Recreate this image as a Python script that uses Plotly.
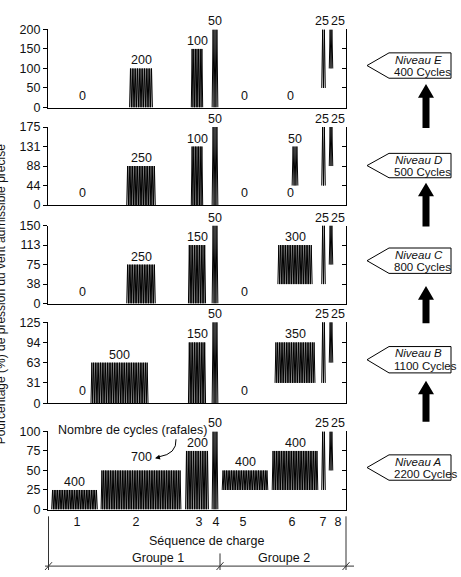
import numpy as np
import plotly.graph_objects as go

W, H = 461, 577
FONT = "Liberation Sans, Arial, sans-serif"

# ---------------- data ----------------
levels = ["A", "B", "C", "D", "E"]              # bottom -> top
level_cycles = [2200, 1100, 800, 500, 400]
level_max = [100, 125, 150, 175, 200]          # % of specified wind pressure
tick_text = [
    ["0", "25", "50", "75", "100"],
    ["0", "31", "63", "94", "125"],
    ["0", "38", "75", "113", "150"],
    ["0", "44", "88", "131", "175"],
    ["0", "50", "100", "150", "200"],
]
sequences = [1, 2, 3, 4, 5, 6, 7, 8]
seq_lo_frac = [0, 0, 0, 0, 0.25, 0.25, 0.25, 0.5]
seq_hi_frac = [0.25, 0.5, 0.75, 1, 0.5, 0.75, 1, 1]
cycles = {
    "A": [400, 700, 200, 50, 400, 400, 25, 25],
    "B": [0, 500, 150, 50, 0, 350, 25, 25],
    "C": [0, 250, 150, 50, 0, 300, 25, 25],
    "D": [0, 250, 100, 50, 0, 50, 25, 25],
    "E": [0, 200, 100, 50, 0, 0, 25, 25],
}
stray_zero = {"D": [6]}
# timeline positions (x axis units)
seq_center = [26.5, 93, 149, 167, 197, 247, 275.5, 283]
center_override = {"B": {2: 71.5}}
seq_tick_pos = [29, 88, 151, 168, 195, 244, 275, 290]
x_range = [0, 298]
width_per_cycle = 0.114

# ---------------- styles ----------------
label_xshift = {7: -2, 8: 7}          # px
label_yshift = {2: 5}                 # px
zero_xshift = {1: 7.5, 5: -1, 6: -5}  # px
panel_px = [(435, 515), (323, 406), (224, 304), (123, 203), (23, 103)]  # top,bottom px
x_dom = [48 / W, 346 / W]


def px(x, y):
    return x / W, 1 - y / H


fig = go.Figure()
annotations = []
shapes = []

for i, lev in enumerate(levels):
    M = level_max[i]
    xa = "x" if i == 0 else f"x{i+1}"
    ya = "y" if i == 0 else f"y{i+1}"
    xs_all, ys_all = [], []
    for j, s in enumerate(sequences):
        c = cycles[lev][j]
        xc = center_override.get(lev, {}).get(s, seq_center[j])
        lo = seq_lo_frac[j] * M
        hi = seq_hi_frac[j] * M
        if c > 0:
            w = max(c * width_per_cycle, 3.5)
            n = max(2, int(round(c / 15)))
            xs = np.linspace(xc - w / 2, xc + w / 2, 2 * n + 1)
            ys = [lo if k % 2 == 0 else hi for k in range(2 * n + 1)]
            xs_all += list(xs) + [None]
            ys_all += ys + [None]
            annotations.append(dict(
                x=xc, y=hi, xref=xa, yref=ya, text=str(c), showarrow=False,
                yanchor="bottom", xshift=label_xshift.get(s, 0),
                yshift=-1 + (label_yshift.get(s, 0) if lev == "A" else 0),
                font=dict(size=12.5, family=FONT, color="#111")))
        if c == 0 or s in stray_zero.get(lev, []):
            annotations.append(dict(
                x=xc, y=0, xref=xa, yref=ya, text="0", showarrow=False,
                yanchor="middle", xshift=zero_xshift.get(s, 0), yshift=12,
                font=dict(size=12.5, family=FONT, color="#111")))
    fig.add_trace(go.Scatter(
        x=xs_all, y=ys_all, mode="lines", xaxis=xa, yaxis=ya,
        line=dict(color="black", width=1), showlegend=False, hoverinfo="skip"))
    # invisible trace for the right-hand axis
    fig.add_trace(go.Scatter(x=[None], y=[None], xaxis=xa, yaxis=f"y{i+6}",
                             showlegend=False))

    top, bot = panel_px[i]
    dom = [1 - bot / H, 1 - top / H]
    tickvals = [0, M / 4, M / 2, 3 * M / 4, M]
    xkey = "xaxis" if i == 0 else f"xaxis{i+1}"
    ykey = "yaxis" if i == 0 else f"yaxis{i+1}"
    xprops = dict(domain=x_dom, range=x_range, anchor=ya, showgrid=False,
                  zeroline=False, showline=True, linecolor="black", linewidth=1.3,
                  ticks="", fixedrange=True)
    if i == 0:
        xprops.update(tickvals=seq_tick_pos, ticktext=[str(s) for s in sequences],
                      tickfont=dict(size=12.5, family=FONT, color="#111"))
    else:
        xprops.update(showticklabels=False)
    fig.layout[xkey] = xprops
    fig.layout[ykey] = dict(
        domain=dom, range=[0, M], anchor=xa, showgrid=False, zeroline=False,
        showline=True, linecolor="black", linewidth=1.3, ticks="outside",
        ticklen=4, tickcolor="black", tickvals=tickvals, ticktext=tick_text[i],
        tickfont=dict(size=12.5, family=FONT, color="#111"), fixedrange=True)
    fig.layout[f"yaxis{i+6}"] = dict(
        domain=dom, range=[0, M], anchor=xa, overlaying=ya, side="right",
        showgrid=False, zeroline=False, showline=True, linecolor="black",
        linewidth=1.3, ticks="inside", ticklen=4, tickcolor="black",
        tickvals=tickvals, showticklabels=False, fixedrange=True)

# ---------------- level tags on the right ----------------
tag_px = [(459, 485), (348, 375), (247, 273), (150, 175), (47, 73)]
for i, lev in enumerate(levels):
    t, b = tag_px[i]
    m = (t + b) / 2
    pts = [(367, m), (389, t), (451, t), (451, b), (389, b)]
    path = "M " + " L ".join(f"{px(x, y)[0]:.5f},{px(x, y)[1]:.5f}" for x, y in pts) + " Z"
    shapes.append(dict(type="path", path=path, xref="paper", yref="paper",
                       line=dict(color="black", width=1), fillcolor="white"))
    annotations.append(dict(x=px(393, 0)[0], y=px(0, t + 7)[1], xref="paper", yref="paper",
                            text=f"<i>Niveau {lev}</i>", showarrow=False, xanchor="left",
                            yanchor="middle", font=dict(size=11.5, family=FONT, color="#111")))
    annotations.append(dict(x=px(392, 0)[0], y=px(0, t + 19.5)[1], xref="paper", yref="paper",
                            text=f"{level_cycles[i]} Cycles", showarrow=False, xanchor="left",
                            yanchor="middle", font=dict(size=11.5, family=FONT, color="#111")))

# up arrows between tags
for tip, bottom in [(79, 124), (180, 225), (286, 324), (383, 425)]:
    cx = 426
    pts = [(cx, tip), (cx + 8, tip + 14), (cx + 3.5, tip + 14), (cx + 3.5, bottom),
           (cx - 3.5, bottom), (cx - 3.5, tip + 14), (cx - 8, tip + 14)]
    path = "M " + " L ".join(f"{px(x, y)[0]:.5f},{px(x, y)[1]:.5f}" for x, y in pts) + " Z"
    shapes.append(dict(type="path", path=path, xref="paper", yref="paper",
                       line=dict(color="black", width=0), fillcolor="black"))

# ---------------- note with curved arrow ----------------
annotations.append(dict(x=px(56, 0)[0], y=px(0, 434)[1], xref="paper", yref="paper",
                        text="Nombre de cycles (rafales)", showarrow=False, xanchor="left",
                        yanchor="middle", font=dict(size=12.5, family=FONT, color="#111")))
p0, p1, p2 = px(176, 443), px(177, 458), px(159, 461)
shapes.append(dict(type="path", xref="paper", yref="paper",
                   path=f"M {p0[0]:.5f},{p0[1]:.5f} Q {p1[0]:.5f},{p1[1]:.5f} {p2[0]:.5f},{p2[1]:.5f}",
                   line=dict(color="black", width=1)))
annotations.append(dict(x=px(155, 0)[0], y=px(0, 462.5)[1], xref="paper", yref="paper",
                        ax=6, ay=-1.5, text="", showarrow=True, arrowhead=2, arrowsize=1,
                        arrowwidth=1, arrowcolor="black"))

# ---------------- bottom: sequence title & groups ----------------
annotations.append(dict(x=px(206, 0)[0], y=px(0, 547)[1], xref="paper", yref="paper",
                        text="Séquence de charge", showarrow=False, yanchor="middle",
                        font=dict(size=12.5, family=FONT, color="#111")))
annotations.append(dict(x=px(130, 0)[0], y=px(0, 565)[1], xref="paper", yref="paper",
                        text="Groupe 1", showarrow=False, yanchor="middle",
                        font=dict(size=12.5, family=FONT, color="#111")))
annotations.append(dict(x=px(284, 0)[0], y=px(0, 565)[1], xref="paper", yref="paper",
                        text="Groupe 2", showarrow=False, yanchor="middle",
                        font=dict(size=12.5, family=FONT, color="#111")))


def seg(x0, y0, x1, y1, w=1):
    a, b = px(x0, y0), px(x1, y1)
    shapes.append(dict(type="line", xref="paper", yref="paper", x0=a[0], y0=a[1],
                       x1=b[0], y1=b[1], line=dict(color="#333", width=w)))


seg(48.5, 522, 48.5, 577)
seg(220, 560, 220, 577)
seg(346, 522, 346, 577)
seg(45, 573, 354, 573)
for xx in (48.5, 220, 346):
    seg(xx - 3.5, 577, xx + 3.5, 569)

# y axis title (mostly cut by the left edge, as in the reference)
annotations.append(dict(x=px(0.5, 0)[0], y=px(0, 295)[1], xref="paper", yref="paper",
                        text="Pourcentage (%) de pression du vent admissible précisé",
                        textangle=-90, showarrow=False, xanchor="center", yanchor="middle",
                        font=dict(size=12, family=FONT, color="#111")))

fig.update_layout(
    width=W, height=H, margin=dict(l=0, r=0, t=0, b=0),
    paper_bgcolor="white", plot_bgcolor="white",
    showlegend=False, annotations=annotations, shapes=shapes,
    font=dict(family=FONT, color="#111"),
)
fig.write_html("out.html")
